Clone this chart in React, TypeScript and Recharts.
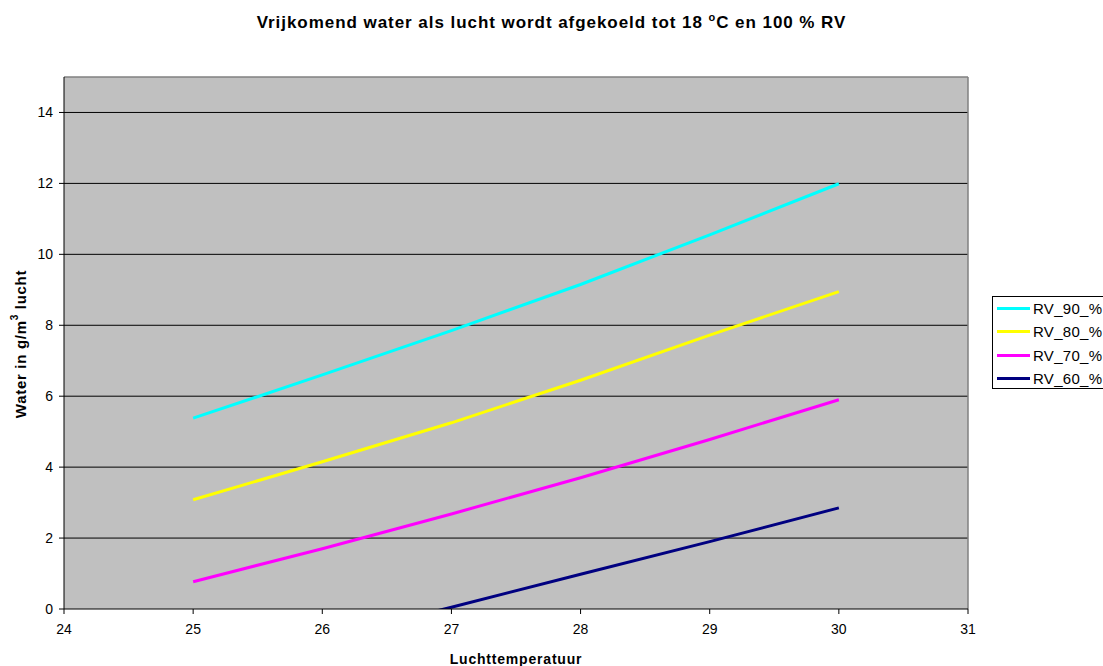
import React from 'react';
import { LineChart, Line, XAxis, YAxis, CartesianGrid, Legend, ReferenceLine } from 'recharts';

const temperatures = [25, 26, 27, 28, 29, 30];
const rv90 = [5.38, 6.6, 7.85, 9.15, 10.55, 11.99];
const rv80 = [3.08, 4.15, 5.25, 6.45, 7.72, 8.95];
const rv70 = [0.77, 1.7, 2.68, 3.7, 4.78, 5.9];
const rv60 = [-1.75, -0.85, 0.05, 0.98, 1.9, 2.85];

const xTicks = [24, 25, 26, 27, 28, 29, 30, 31];
const yTicks = [0, 2, 4, 6, 8, 10, 12, 14];

const seriesInfo = [
  { key: 'RV_90_%', values: rv90, color: '#00FFFF' },
  { key: 'RV_80_%', values: rv80, color: '#FFFF00' },
  { key: 'RV_70_%', values: rv70, color: '#FF00FF' },
  { key: 'RV_60_%', values: rv60, color: '#000080' },
];

const data = temperatures.map((t, i) => {
  const row: Record<string, number> = { t };
  seriesInfo.forEach((s) => {
    row[s.key] = s.values[i];
  });
  return row;
});

const FONT = 'Arial, "Liberation Sans", sans-serif';

const LegendContent = () => (
  <div
    style={{
      border: '1px solid #000',
      background: '#fff',
      width: 130,
      height: 93,
      boxSizing: 'border-box',
      paddingTop: 0,
      fontFamily: FONT,
      fontSize: 15,
      letterSpacing: 0.3,
      color: '#000',
    }}
  >
    {seriesInfo.map((s) => (
      <div key={s.key} style={{ display: 'flex', alignItems: 'center', height: 23.3, whiteSpace: 'nowrap' }}>
        <div style={{ width: 33, height: 3, background: s.color, marginLeft: 4, marginRight: 3, flexShrink: 0 }} />
        <span>{s.key}</span>
      </div>
    ))}
  </div>
);

const YLabel = () => (
  <text
    x={20}
    y={344}
    transform="rotate(-90, 20, 344)"
    textAnchor="middle"
    dominantBaseline="central"
    fontFamily={FONT}
    fontWeight="bold"
    fontSize={15}
    letterSpacing={0.7}
    fill="#000"
  >
    Water in g/m
    <tspan baselineShift="super" fontSize={10}>3</tspan>
    <tspan> lucht</tspan>
  </text>
);

export default function App() {
  return (
    <div style={{ position: 'absolute', left: 0, top: 0, width: 1103, height: 666, overflow: 'hidden', background: '#fff' }}>
      <div
        style={{
          position: 'absolute',
          left: 0,
          top: 11,
          width: 1103,
          textAlign: 'center',
          fontFamily: FONT,
          fontWeight: 'bold',
          fontSize: 17,
          letterSpacing: 0.95,
          color: '#000',
          zIndex: 2,
          whiteSpace: 'nowrap',
        }}
      >
        Vrijkomend water als lucht wordt afgekoeld tot 18 <sup style={{ fontSize: 11 }}>o</sup>C en 100 % RV
      </div>
      <LineChart width={1103} height={666} data={data} margin={{ top: 77, right: 135, bottom: 0, left: 0 }}>
        <CartesianGrid fill="#C0C0C0" stroke="#000" strokeOpacity={1} vertical={false} horizontalValues={yTicks.filter((v) => v > 0)} />
        <ReferenceLine y={15} stroke="#808080" strokeWidth={1.5} ifOverflow="visible" />
        <ReferenceLine x={31} stroke="#808080" strokeWidth={1.5} ifOverflow="visible" />
        <XAxis
          dataKey="t"
          type="number"
          domain={[24, 31]}
          ticks={xTicks}
          interval={0}
          height={57}
          stroke="#000"
          tickSize={5}
          tickMargin={10}
          tick={{ fill: '#000', fontSize: 14, fontFamily: FONT }}
          label={{ value: 'Luchttemperatuur', position: 'insideBottom', offset: 2, fill: '#000', fontSize: 14, fontWeight: 'bold', fontFamily: FONT, letterSpacing: 0.8 }}
        />
        <YAxis
          type="number"
          domain={[0, 15]}
          ticks={yTicks}
          interval={0}
          allowDataOverflow
          width={64}
          stroke="#000"
          tickSize={5}
          tickMargin={6}
          tick={{ fill: '#000', fontSize: 14, fontFamily: FONT }}
          label={<YLabel />}
        />
        {seriesInfo.map((s) => (
          <Line
            key={s.key}
            type="linear"
            dataKey={s.key}
            stroke={s.color}
            strokeWidth={3}
            dot={false}
            activeDot={false}
            isAnimationActive={false}
          />
        ))}
        <Legend
          layout="horizontal"
          align="center"
          verticalAlign="middle"
          content={<LegendContent />}
          wrapperStyle={{ left: 992, top: 296, width: 130, height: 93 }}
        />
      </LineChart>
    </div>
  );
}
